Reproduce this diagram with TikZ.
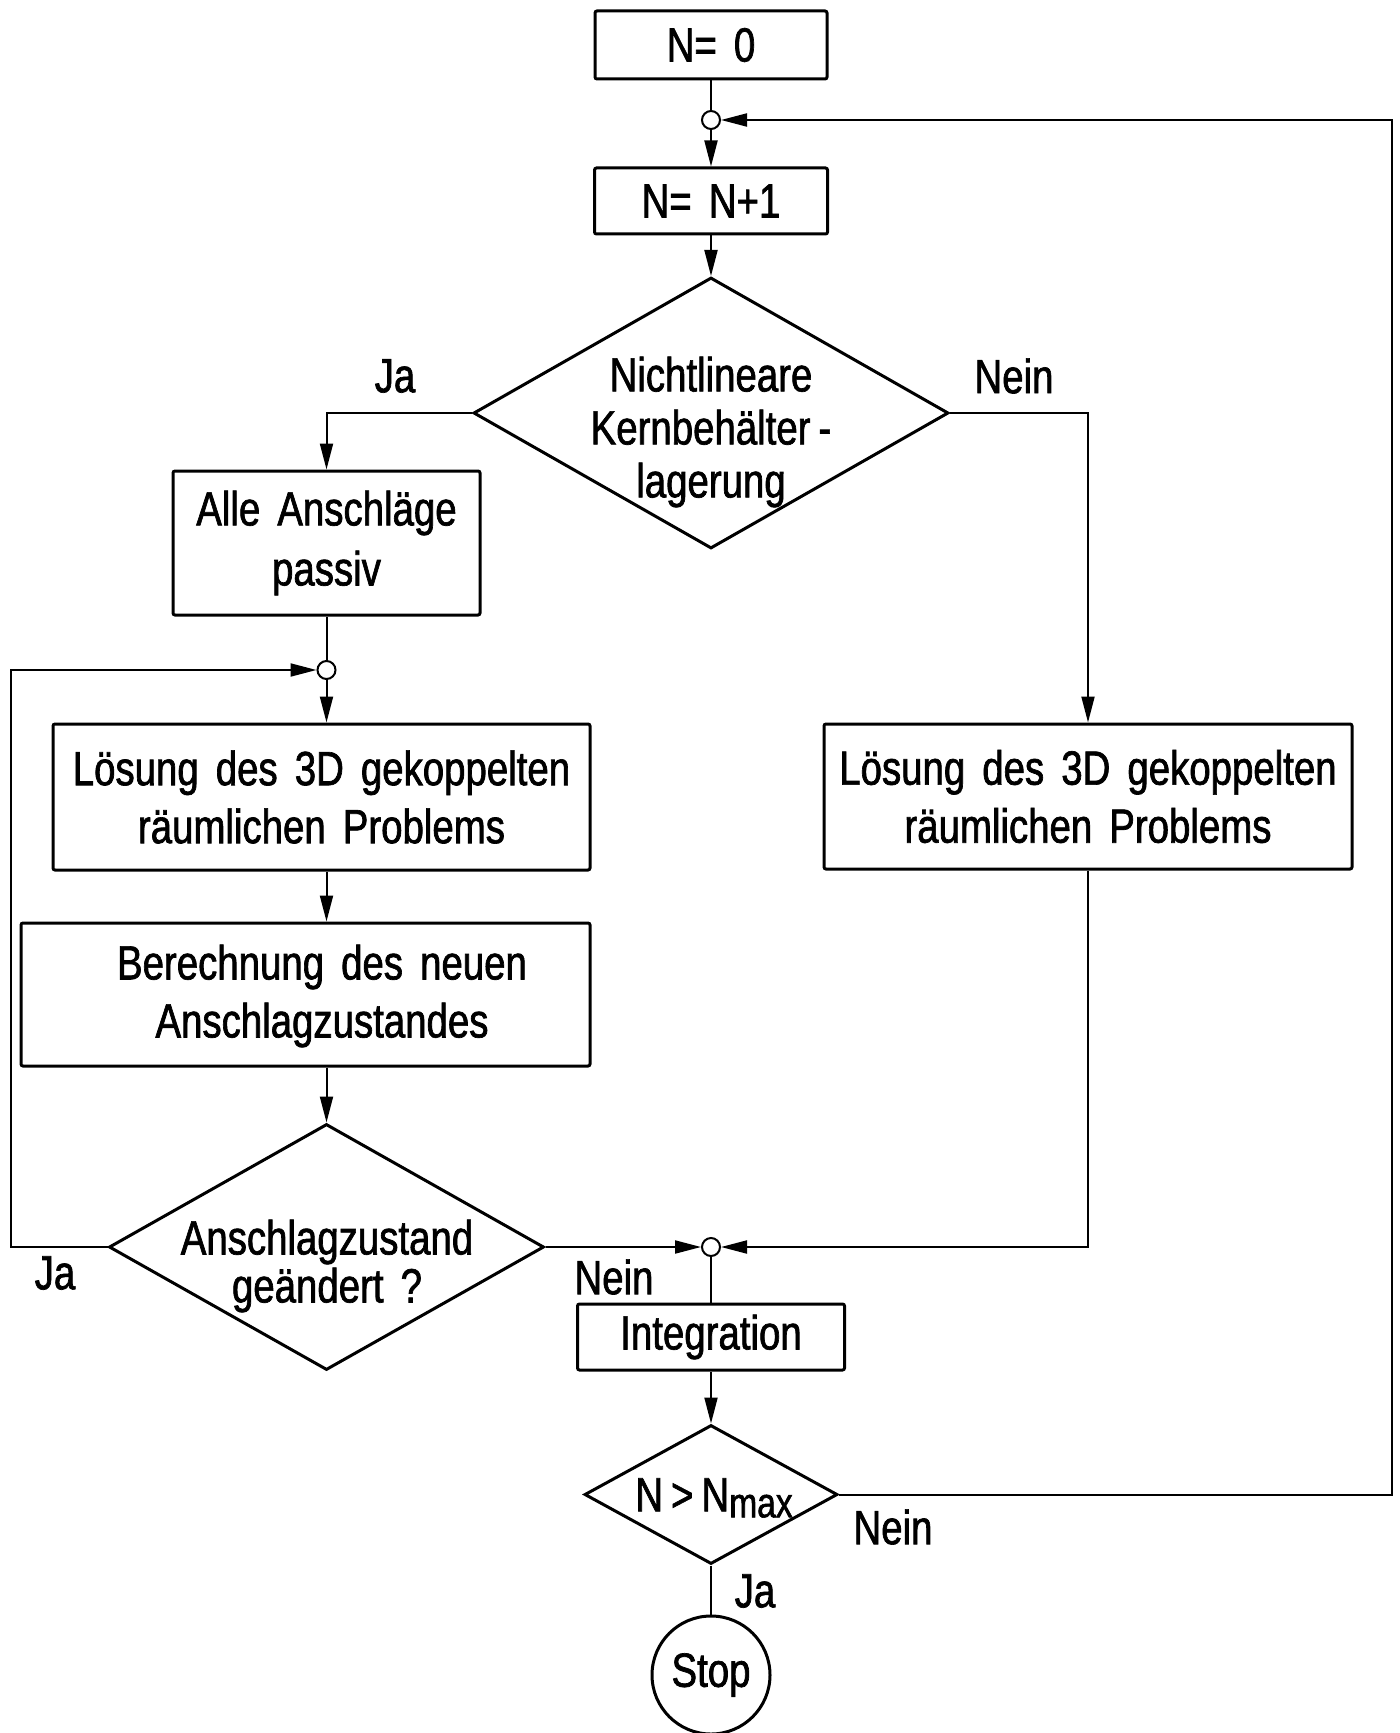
\documentclass[tikz,border=0pt]{standalone}
\usepackage{fontspec}
\setmainfont{Liberation Sans}[FakeStretch=0.8,FakeBold=1.4,WordSpace=1.6]
\usetikzlibrary{shapes.geometric,arrows.meta}
\begin{document}
\begin{tikzpicture}[x=0.5pt,y=-0.5pt,
  font=\fontsize{24}{29}\selectfont,
  box/.style={draw,line width=1.5pt,rounded corners=1pt,inner sep=0pt,align=center},
  dia/.style={draw,diamond,line width=1.5pt,inner sep=0pt},
  txt/.style={inner sep=0pt,align=center},
  lbl/.style={inner sep=0pt},
  joint/.style={circle,draw,fill=white,line width=1pt,minimum size=9pt,inner sep=0pt},
  flow/.style={line width=1pt},
  arr/.style={flow,-{Triangle[length=13pt,width=6.5pt]}},
]
\useasboundingbox[fill=white] (0,0) rectangle (1400,1733);

% main column
\node[box,minimum width=116pt,minimum height=34pt] (n0) at (711,45) {N= 0};
\node[joint] (c1) at (711,120) {};
\node[box,minimum width=116.5pt,minimum height=33pt] (n1) at (711,201) {N= N+1};
\node[dia,minimum width=237.5pt,minimum height=135.5pt] (d1) at (711,413) {};
\node[txt,font=\fontsize{24}{26.5}\selectfont] (d1t) at (711,432) {Nichtlineare\\Kernbehälter\,-\\lagerung};
\node[lbl] (ja1) at (395,376) {Ja};
\node[lbl] (nein1) at (1014,376) {Nein};

% left branch
\node[box,minimum width=153.5pt,minimum height=72pt,font=\fontsize{24}{30}\selectfont] (alle) at (326.5,543) {Alle Anschläge\\passiv};
\node[joint] (c2) at (326.5,670) {};
\node[box,minimum width=268.5pt,minimum height=73pt] (lsl) at (321.5,797) {Lösung des 3D gekoppelten\\räumlichen Problems};
\node[box,minimum width=284.5pt,minimum height=71.5pt] (ber) at (305.5,994.5) {};
\node[txt] (bert) at (322,996) {Berechnung des neuen\\Anschlagzustandes};
\node[dia,minimum width=217.5pt,minimum height=123pt] (d2) at (326.5,1247) {};
\node[txt,font=\fontsize{24}{24}\selectfont] (d2t) at (327,1266) {Anschlagzustand\\geändert ?};
\node[lbl] (ja2) at (55,1273) {Ja};
\node[lbl] (nein2) at (614,1277) {Nein};
\coordinate (loopl) at (11,1247);

% right branch
\node[box,minimum width=264pt,minimum height=72.5pt] (lsr) at (1088,796.5) {Lösung des 3D gekoppelten\\räumlichen Problems};

% lower column
\node[joint] (c3) at (711,1247) {};
\node[box,minimum width=133.5pt,minimum height=33pt] (int) at (711,1337) {Integration};
\node[dia,minimum width=126.5pt,minimum height=69.5pt] (d3) at (711,1494.5) {};
\node[txt] (d3t) at (714,1498) {N\,>\,N{\fontsize{21}{21}\selectfont\raisebox{-3pt}{max}}};
\node[lbl] (nein3) at (893,1527) {Nein};
\node[lbl] (ja3) at (755,1591) {Ja};
\node[circle,draw,line width=1.5pt,minimum size=59pt,inner sep=0pt] (stop) at (711,1675) {Stop};
\coordinate (loopr) at (1392,1494.5);

% connectors
\draw[flow] (n0) -- (c1);
\draw[arr] (c1) -- (n1);
\draw[arr] (n1) -- (d1);
\draw[arr] (d1.west) -| (alle.north);
\draw[arr] (d1.east) -| (lsr.north);
\draw[flow] (alle.south) -- (c2);
\draw[arr] (c2) -- (c2 |- lsl.north);
\draw[arr] (c2 |- lsl.south) -- (c2 |- ber.north);
\draw[arr] (c2 |- ber.south) -- (d2.north);
\draw[arr] (d2.west) -- (loopl) |- (c2);
\draw[arr] (d2.east) -- (c3);
\draw[arr] (lsr.south) |- (c3);
\draw[flow] (c3) -- (int);
\draw[arr] (int) -- (d3);
\draw[flow] (d3) -- (stop);
\draw[arr] (d3.east) -- (loopr) |- (c1);
\end{tikzpicture}
\end{document}
